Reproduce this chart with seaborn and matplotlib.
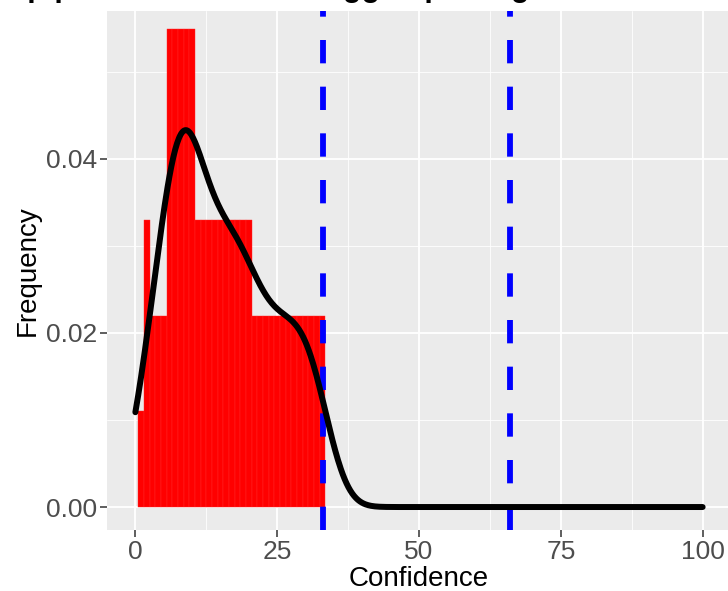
import numpy as np
import pandas as pd
import matplotlib
matplotlib.use("Agg")
import matplotlib.pyplot as plt
from matplotlib.ticker import FixedLocator
import seaborn as sns

# ---- data ----
conf_values = list(range(1, 34))
conf_counts = [1, 3, 2, 2, 2, 5, 5, 5, 5, 5,
               3, 3, 3, 3, 3, 3, 3, 3, 3, 3,
               2, 2, 2, 2, 2, 2, 2, 2, 2, 2, 2, 2, 2]
thresholds = [33, 66]
x_ticks = [0, 25, 50, 75, 100]
x_tick_labels = ["0", "25", "50", "75", "100"]
y_ticks = [0.00, 0.02, 0.04]
y_tick_labels = ["0.00", "0.02", "0.04"]
title = "Confidence of comp predicates and untagged packages"

df = pd.DataFrame({"Confidence": np.repeat(conf_values, conf_counts)})

sns.set_theme(style="darkgrid")
plt.rcParams["font.family"] = ["Liberation Sans", "DejaVu Sans"]

fig = plt.figure(figsize=(7.28, 5.91), dpi=100)
ax = fig.add_axes([107 / 728, 1 - 530 / 591, (731 - 107) / 728, (530 - 11) / 591])
ax.set_facecolor("#EBEBEB")

sns.histplot(data=df, x="Confidence", stat="density", binwidth=1, binrange=(0.5, 33.5),
             color="red", alpha=1, linewidth=0.3, edgecolor="#FF2A2A", ax=ax, zorder=2)

# ggplot-like bandwidth (bw.nrd0)
x = df["Confidence"].to_numpy(dtype=float)
sd = x.std(ddof=1)
iqr = np.subtract(*np.percentile(x, [75, 25]))
adj = 0.9 * min(sd, iqr / 1.34) / sd
sns.kdeplot(data=df, x="Confidence", bw_adjust=adj, cut=40, clip=(0, 100), gridsize=600,
            color="black", linewidth=4.3, ax=ax, zorder=4)

for t in thresholds:
    ax.axvline(t, color="blue", linewidth=4.2, linestyle=(0, (4, 4)),
               dash_capstyle="butt", zorder=3)

ax.set_xlim(-5, 105)
ax.set_ylim(-0.00264, 0.0570)
ax.set_xticks(x_ticks)
ax.set_xticklabels(x_tick_labels)
ax.set_yticks(y_ticks)
ax.set_yticklabels(y_tick_labels)
ax.xaxis.set_minor_locator(FixedLocator([12.5, 37.5, 62.5, 87.5]))
ax.yaxis.set_minor_locator(FixedLocator([0.01, 0.03, 0.05]))
ax.grid(which="major", color="white", linewidth=1.3)
ax.grid(which="minor", color="white", linewidth=0.6)
ax.set_axisbelow(True)
for s in ax.spines.values():
    s.set_visible(False)

ax.tick_params(axis="both", which="major", length=5, width=1.1, color="#333333",
               labelsize=19, labelcolor="#4D4D4D", pad=2, bottom=True, left=True)
ax.tick_params(axis="both", which="minor", length=0)
ax.set_xlabel("Confidence", fontsize=20, color="black", labelpad=2)
ax.set_ylabel("Frequency", fontsize=20, color="black", labelpad=4)

fig.text(563 / 728, 1.006, title, ha="right", va="baseline",
         fontsize=22, fontweight="bold", color="black")

fig.savefig("out.png", dpi=100)
